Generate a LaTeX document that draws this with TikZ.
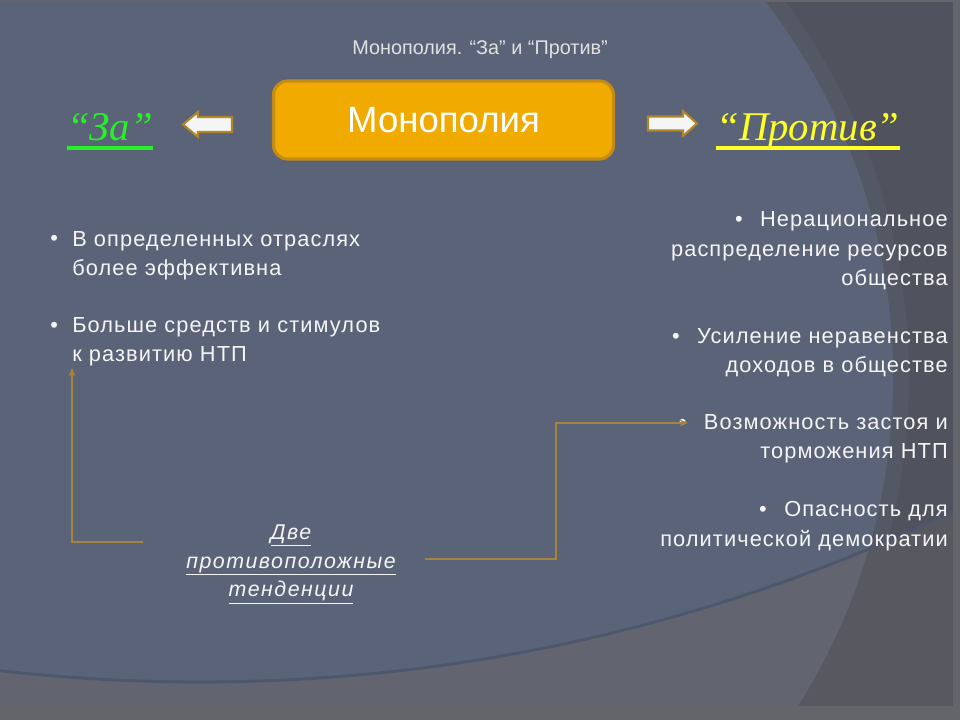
\documentclass[tikz,border=0pt]{standalone}
\usepackage{fontspec}
\setmainfont{Liberation Sans}
\newfontfamily\bodyfont[LetterSpace=5]{Liberation Sans}
\newfontfamily\tendfont[LetterSpace=7]{Liberation Sans}
\newfontfamily\fancyfont{Liberation Serif}
\usetikzlibrary{arrows.meta}
\definecolor{bgdark}{RGB}{80,83,94}
\definecolor{bgband}{RGB}{84,88,100}
\definecolor{bgblue}{RGB}{90,99,119}
\definecolor{bglow}{RGB}{98,100,112}
\definecolor{bglowdark}{RGB}{88,89,96}
\definecolor{arcline}{RGB}{76,86,108}
\definecolor{rimcol}{RGB}{100,101,107}
\definecolor{boxfill}{RGB}{240,170,0}
\definecolor{boxedge}{RGB}{196,140,20}
\definecolor{arrowedge}{RGB}{176,134,42}
\definecolor{conncol}{RGB}{165,132,62}
\definecolor{txtcol}{RGB}{245,245,245}
\definecolor{zagreen}{RGB}{40,240,40}
\definecolor{protyellow}{RGB}{255,255,40}
\tikzset{
  bodytext/.style={text=txtcol, inner sep=0pt, font=\bodyfont\fontsize{15.5}{21.3}\selectfont},
  blockarrow/.style={draw=arrowedge, fill=white!96!black, line width=1.5pt, line join=miter},
  connector/.style={draw=conncol, line width=1.4pt, -{Stealth[length=6pt,width=5pt]}},
  fancy/.style={inner sep=0pt, font=\fancyfont\itshape\fontsize{29}{34}\selectfont}
}
\begin{document}
\begin{tikzpicture}[x=0.025cm,y=-0.025cm]
\useasboundingbox (0,0) rectangle (960,720);
% background
\fill[bgdark] (0,0) rectangle (960,720);
\fill[bgband] (277,377) circle (632);
\fill[bgblue] (277,377) circle (616);
\begin{scope}[even odd rule]
  \clip (-20,-20) rectangle (980,740) (200,-1060) circle (1742);
  \fill[bglowdark] (0,0) rectangle (960,720);
  \fill[bglow] (277,377) circle (616);
\end{scope}
\draw[arcline, line width=2pt] (200,-1060) circle (1742);
\fill[rimcol] (953,0) rectangle (960,720);
\fill[rimcol] (0,706) rectangle (960,720);
\fill[rimcol] (0,0) rectangle (960,2);

% title
\node[text=txtcol!92!black, font=\fontsize{14.1}{15}\selectfont] (title) at (480,50) {Монополия. “За” и “Против”};

% central box
\node[draw=boxedge, fill=boxfill, line width=2.2pt, rounded corners=0.35cm,
      minimum width=8.5cm, minimum height=1.95cm, text=white,
      font=\fontsize{26}{28}\selectfont] (mono) at (443.5,120) {Монополия};

% block arrows
\draw[blockarrow] (183,124.5) -- (198,112) -- (198,117) -- (232,117) -- (232,132) -- (198,132) -- (198,137) -- cycle;
\draw[blockarrow] (697,123.5) -- (683,111) -- (683,116.5) -- (648,116.5) -- (648,130.5) -- (683,130.5) -- (683,136) -- cycle;

% For / Against headings
\node[fancy, text=zagreen, anchor=base] (za) at (110,141) {“За”};
\draw[zagreen, line width=2.6pt] ([yshift=-5pt]za.base west) -- ([yshift=-5pt]za.base east);
\node[fancy, text=protyellow, anchor=base] (prot) at (808,141) {“Против”};
\draw[protyellow, line width=2.6pt] ([yshift=-5pt]prot.base west) -- ([yshift=-5pt]prot.base east);

% left bullets
\node[bodytext, anchor=base west] (lb1) at (50,246) {•};
\node[bodytext, anchor=base west, align=left] (l1) at (72,276) {В определенных отраслях\\более эффективна};
\node[bodytext, anchor=base west] (lb2) at (50,333) {•};
\node[bodytext, anchor=base west, align=left] (l2) at (72,362) {Больше средств и стимулов\\к развитию НТП};

% right bullets
\node[bodytext, anchor=base east, align=right] (r1) at (948,286) {•\hspace{0.8em}Нерациональное\\распределение ресурсов\\общества};
\node[bodytext, anchor=base east, align=right] (r2) at (948,373) {•\hspace{0.8em}Усиление неравенства\\доходов в обществе};
\node[bodytext, anchor=base east, align=right] (r3) at (948,459) {•\hspace{0.8em}Возможность застоя и\\торможения НТП};
\node[bodytext, anchor=base east, align=right] (r4) at (948,546) {•\hspace{0.8em}Опасность для\\политической демократии};

% two tendencies
\node[text=txtcol, align=center, inner sep=0pt, font=\tendfont\itshape\fontsize{15.2}{20.6}\selectfont, anchor=base] (tend) at (291,597)
  {\underline{Две}\\\underline{противоположные}\\\underline{тенденции}};

% connectors
\coordinate (lstart) at (143,542);
\coordinate (lend) at (72,368);
\coordinate (rstart) at (425,559);
\coordinate (rcorner) at (556,423);
\coordinate (rend) at (688,423);
\draw[connector] (lstart) -| (lend);
\draw[connector] (rstart) -| (rcorner) -- (rend);
\end{tikzpicture}
\end{document}
